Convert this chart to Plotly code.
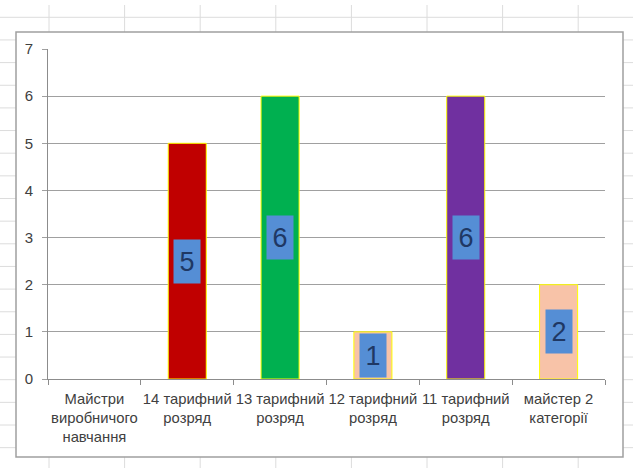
import plotly.graph_objects as go

categories = ["Майстри<br>виробничого<br>навчання", "14 тарифний<br>розряд", "13 тарифний<br>розряд",
              "12 тарифний<br>розряд", "11 тарифний<br>розряд", "майстер 2<br>категорії"]
values = [None, 5, 6, 1, 6, 2]
bar_colors = ["#C00000", "#C00000", "#00B050", "#F8C3A8", "#7030A0", "#F8C3A8"]
y_ticks = [0, 1, 2, 3, 4, 5, 6, 7]

W, H = 633, 468
L, R, T, B = 48, 605, 49, 379  # plot area in pixels


def px_x(p):
    return (p - L) / (R - L)


def px_y(p):
    return (B - p) / (B - T)


fig = go.Figure()
fig.add_trace(go.Bar(
    x=categories, y=values, width=0.41,
    marker=dict(color=bar_colors, line=dict(color="#FFFF00", width=1)),
    hoverinfo="skip",
))

shapes = []
# spreadsheet background grid
for k in range(8):
    xp = 49 + 75.6 * k
    shapes.append(dict(type="line", xref="paper", yref="paper", layer="below",
                       x0=px_x(xp), x1=px_x(xp), y0=px_y(5), y1=px_y(H),
                       line=dict(color="#DCDCDC", width=1)))
for k in range(20):
    yp = 17.3 + 22.65 * k
    shapes.append(dict(type="line", xref="paper", yref="paper", layer="below",
                       x0=px_x(0), x1=px_x(W), y0=px_y(yp), y1=px_y(yp),
                       line=dict(color="#DCDCDC", width=1)))
# chart frame
shapes.append(dict(type="rect", xref="paper", yref="paper", layer="below",
                   x0=px_x(16), x1=px_x(623), y0=px_y(457), y1=px_y(32),
                   fillcolor="white", line=dict(color="#A0A0A0", width=1.5)))

annotations = []
for c, v in zip(categories, values):
    if v:
        annotations.append(dict(x=c, y=v / 2, xref="x", yref="y", text=str(v),
                                showarrow=False, bgcolor="#558ED5", width=24, height=41,
                                borderpad=1,
                                font=dict(family="Liberation Sans", size=27, color="#1F3864")))

fig.update_layout(
    width=W, height=H,
    margin=dict(l=L, r=W - R, t=T, b=H - B, pad=0, autoexpand=False),
    paper_bgcolor="white", plot_bgcolor="rgba(0,0,0,0)",
    showlegend=False,
    shapes=shapes, annotations=annotations,
    font=dict(family="Liberation Sans", size=14, color="#404040"),
    bargap=0.59,
)
fig.update_xaxes(showgrid=False, showline=True, linecolor="#8C8C8C", linewidth=1,
                 ticks="outside", tickson="boundaries", ticklen=5, tickcolor="#8C8C8C",
                 tickangle=0, automargin=False, ticklabelstandoff=6,
                 tickfont=dict(size=14.8, color="#404040"))
fig.update_yaxes(range=[0, 7], tickvals=y_ticks, showgrid=True, gridcolor="#A0A0A0", gridwidth=1,
                 showline=True, linecolor="#8C8C8C", linewidth=1, zeroline=False,
                 ticks="outside", ticklen=5, tickcolor="#A0A0A0", ticklabelstandoff=6,
                 automargin=False,
                 tickfont=dict(size=15, color="#404040"))

fig.write_html("out.html", config={"displayModeBar": False},
               post_script="document.body.style.margin='0';document.body.style.overflow='hidden';")
